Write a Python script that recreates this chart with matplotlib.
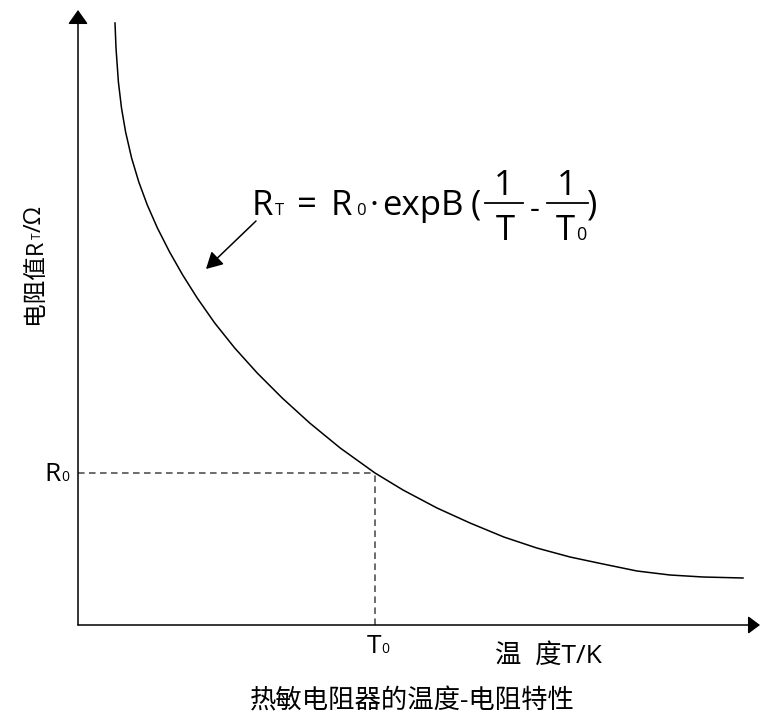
import matplotlib
matplotlib.use('Agg')
import matplotlib.pyplot as plt
from matplotlib.lines import Line2D
from matplotlib.patches import FancyArrowPatch

plt.rcParams['font.family'] = ['Open Sans', 'Noto Sans CJK SC', 'DejaVu Sans']

# curve (arbitrary units, origin at axis corner)
temp = [37, 38, 40.4, 43.5, 47.6, 53.6, 60.8, 69.3, 79.4, 91.6, 104.7, 119.2,
        136.7, 156.7, 179.2, 204.2, 231.7, 262.2, 297, 325, 359, 392, 425.8,
        458.8, 492, 525, 559, 592, 625, 665]
resist = [602, 577, 543, 517, 493, 467, 443, 420, 397, 373, 350, 327, 302, 277,
          252, 227, 202, 177, 152, 135, 117, 102, 88, 77, 68, 61, 54, 50, 48, 47]
t0 = 297
r0 = 152

W, H = 760, 720
fig = plt.figure(figsize=(W / 100, H / 100), dpi=100)
ax = fig.add_axes([78 / W, 95 / H, 682 / W, 615 / H])
ax.set_xlim(0, 682)
ax.set_ylim(0, 615)
ax.axis('off')


def px(x, y):
    return x / W, 1 - y / H


def ftext(x, y, s, size, **kw):
    return fig.text(*px(x, y), s, fontsize=size, color='black', **kw)


# axes with arrow heads
ax.annotate('', xy=(0, 615), xytext=(0, 0),
            arrowprops=dict(arrowstyle='-|>,head_length=8.6,head_width=6.1',
                            mutation_scale=1, lw=1.1, color='black',
                            shrinkA=0, shrinkB=0), annotation_clip=False)
ax.annotate('', xy=(682, 0), xytext=(0, 0),
            arrowprops=dict(arrowstyle='-|>,head_length=7.2,head_width=5.4',
                            mutation_scale=1, lw=1.1, color='black',
                            shrinkA=0, shrinkB=0), annotation_clip=False)

ax.plot(temp, resist, color='black', lw=1.1, solid_joinstyle='round', clip_on=False)

# R0 / T0 guide lines
ax.plot([0, t0], [r0, r0], color='#444444', lw=1.1, dashes=(4.3, 2.9), clip_on=False)
ax.plot([t0, t0], [0, r0], color='#444444', lw=1.1, dashes=(4.3, 2.9), clip_on=False)

# R0 and T0 labels
ftext(44, 481, 'R', 19, ha='left', va='baseline')
ftext(61, 481, '0', 10, ha='left', va='baseline')
ftext(367, 653, 'T', 19, ha='left', va='baseline')
ftext(381, 653, '0', 10, ha='left', va='baseline')

# formula
ftext(252, 215, 'R', 25, ha='left', va='baseline')
ftext(275, 215, 'T', 12, ha='left', va='baseline')
ftext(297, 215, '=', 25, ha='left', va='baseline')
ftext(331, 215, 'R', 25, ha='left', va='baseline')
ftext(356, 215, '0', 12, ha='left', va='baseline')
ftext(369, 215, '·', 25, ha='left', va='baseline')
ftext(382, 215, 'expB', 25, ha='left', va='baseline')
ftext(471, 214, '(', 25, ha='left', va='baseline')
ftext(504, 195, '1', 25, ha='center', va='baseline')
ftext(505, 240, 'T', 25, ha='center', va='baseline')
ftext(530, 218, '-', 22, ha='left', va='baseline')
ftext(567, 195, '1', 25, ha='center', va='baseline')
ftext(556, 240, 'T', 25, ha='left', va='baseline')
ftext(576, 240, '0', 13, ha='left', va='baseline')
ftext(587, 214, ')', 25, ha='left', va='baseline')
for x1, x2 in [(485, 523), (547, 588)]:
    fig.add_artist(Line2D([x1 / W, x2 / W], [1 - 203 / H, 1 - 203 / H],
                          color='black', lw=1.3))

# pointer arrow to the curve
fig.add_artist(FancyArrowPatch(
    px(256, 221), px(206, 269), arrowstyle='-|>,head_length=10,head_width=5.5',
    mutation_scale=1, lw=1.1, color='black', shrinkA=0, shrinkB=0))

# y label, built from pieces so the subscript stays small
renderer = fig.canvas.get_renderer()
ylab_y = 324
for s, size in [('电阻值R', 17), ('T', 8.5), ('/Ω', 17)]:
    t = ftext(41, ylab_y, s, size, rotation=90, rotation_mode='anchor',
              ha='left', va='baseline')
    ylab_y -= t.get_window_extent(renderer).height

ftext(495, 656, '温  度T/K', 19, ha='left', va='center')
ftext(412, 702, '热敏电阻器的温度-电阻特性', 19, ha='center', va='center')

fig.savefig('out.png', dpi=100)
